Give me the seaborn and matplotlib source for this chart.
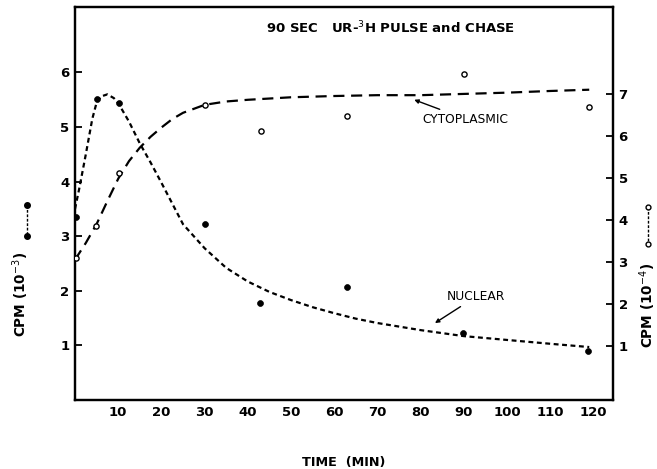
import numpy as np
import pandas as pd
import matplotlib
matplotlib.use("Agg")
import matplotlib.pyplot as plt
from matplotlib.lines import Line2D
import seaborn as sns

# ---- data ----
# Nuclear (filled circles, left axis, CPM x10^-3)
nuc_t = [0.3, 5.1, 10.2, 30.0, 42.8, 63.0, 89.8, 118.8]
nuc_y = [3.35, 5.51, 5.45, 3.22, 1.78, 2.07, 1.22, 0.90]
# Nuclear fitted curve
nuc_curve_t = [0, 1, 2.5, 4, 5, 6, 7.5, 9, 10, 12.5, 15, 17.5, 20, 22.5, 25, 30, 35, 40, 45,
               50, 55, 60, 65, 70, 80, 90, 100, 110, 119]
nuc_curve_y = [3.5, 3.88, 4.5, 5.15, 5.45, 5.56, 5.6, 5.53, 5.44, 5.1, 4.7, 4.35, 3.98, 3.6,
               3.22, 2.78, 2.42, 2.17, 1.98, 1.83, 1.7, 1.59, 1.49, 1.41, 1.28, 1.17, 1.1, 1.03, 0.97]

# Cytoplasmic (open circles, right axis, CPM x10^-4)
cyt_t = [0.3, 4.9, 10.2, 30.0, 43.0, 63.0, 90.0, 119.0]
cyt_y = [3.1, 3.86, 5.12, 6.74, 6.12, 6.48, 7.48, 6.70]
# Cytoplasmic fitted curve
cyt_curve_t = [0, 2.5, 5, 7.5, 10, 12.5, 15, 17.5, 20, 22.5, 25, 30, 35, 40, 50, 60, 70, 80,
               90, 100, 110, 119]
cyt_curve_y = [3.05, 3.45, 3.9, 4.45, 4.98, 5.4, 5.72, 5.98, 6.2, 6.4, 6.55, 6.74, 6.82, 6.86,
               6.92, 6.95, 6.97, 6.97, 7.0, 7.03, 7.07, 7.1]

x_ticks = [10, 20, 30, 40, 50, 60, 70, 80, 90, 100, 110, 120]
left_ticks = [1, 2, 3, 4, 5, 6]
right_ticks = [1, 2, 3, 4, 5, 6, 7]

title_text = "90 SEC   UR-$^{3}$H PULSE and CHASE"

sns.set_style("white")
plt.rcParams['font.family'] = ['DejaVu Sans']
plt.rcParams['text.color'] = 'black'
plt.rcParams['axes.labelcolor'] = 'black'
plt.rcParams['xtick.color'] = 'black'
plt.rcParams['ytick.color'] = 'black'

W, H = 657, 469
fig = plt.figure(figsize=(W / 100, H / 100), dpi=100)
L, R, T, B = 75, 613, 7, 400
ax = fig.add_axes([L / W, 1 - B / H, (R - L) / W, (B - T) / H])
ax2 = ax.twinx()

nuc_df = pd.DataFrame({"t": nuc_curve_t, "y": nuc_curve_y})
cyt_df = pd.DataFrame({"t": cyt_curve_t, "y": cyt_curve_y})

sns.lineplot(data=nuc_df, x="t", y="y", ax=ax, color="black", linewidth=1.6,
             linestyle=(0, (2.2, 1.6)))
sns.scatterplot(x=nuc_t, y=nuc_y, ax=ax, color="black", s=18, marker="o",
                edgecolor="black", linewidth=0.5, zorder=5)

sns.lineplot(data=cyt_df, x="t", y="y", ax=ax2, color="black", linewidth=1.6,
             linestyle=(0, (5, 3)))
sns.scatterplot(x=cyt_t, y=cyt_y, ax=ax2, facecolor="white", s=14, marker="o",
                edgecolor="black", linewidth=1.0, zorder=5)

ax.set_xlim(0, 124.5)
ax.set_ylim(0, 7.2)
ax2.set_ylim(-0.29, 9.07)

ax.set_xticks(x_ticks)
ax.set_xticklabels([str(v) for v in x_ticks])
ax.set_yticks(left_ticks)
ax.set_yticklabels([str(v) for v in left_ticks])
ax2.set_yticks(right_ticks)
ax2.set_yticklabels([str(v) for v in right_ticks])

for a in (ax, ax2):
    a.set_xlabel("")
    a.set_ylabel("")
    for s in a.spines.values():
        s.set_linewidth(1.6)
        s.set_color("black")

ax.tick_params(axis="both", direction="in", length=5, width=1.3, labelsize=9.5,
               pad=4, colors="black")
ax2.tick_params(axis="y", direction="in", length=5, width=1.3, labelsize=9.5,
                pad=4, colors="black")
for lab in ax.get_xticklabels() + ax.get_yticklabels() + ax2.get_yticklabels():
    lab.set_fontweight("bold")

# title
ax.text((391 - L) / (R - L), (B - 28) / (B - T), title_text, transform=ax.transAxes,
        ha="center", va="center", fontsize=9.5, fontweight="bold", color="black")

# annotations
ax2.annotate("CYTOPLASMIC", xy=(78.5, 6.86), xytext=(80.5, 6.4),
             fontsize=8.8, ha="left", va="center", color="black",
             arrowprops=dict(arrowstyle="-|>", color="black", lw=1.0,
                             mutation_scale=6, shrinkA=0, shrinkB=0))
ax.annotate("NUCLEAR", xy=(83.3, 1.41), xytext=(86.0, 1.89),
            fontsize=8.8, ha="left", va="center", color="black",
            arrowprops=dict(arrowstyle="-|>", color="black", lw=1.0,
                            mutation_scale=6, shrinkA=0, shrinkB=0))

# x label
fig.text(344 / W, 1 - 462 / H, "TIME  (MIN)", ha="center", va="center",
         fontsize=9.2, fontweight="bold", color="black")

# y labels with key symbols
fig.text(21 / W, 1 - 294 / H, "CPM (10$^{-3}$)", ha="center", va="center",
         rotation=90, fontsize=9.8, fontweight="bold", color="black")
fig.add_artist(Line2D([27 / W, 27 / W], [1 - 205 / H, 1 - 236 / H], transform=fig.transFigure,
                      color="black", lw=1.0, linestyle=(0, (2, 1.2)), marker="o",
                      markersize=4, markerfacecolor="black", markeredgecolor="black"))

fig.text(648 / W, 1 - 305 / H, "CPM (10$^{-4}$)", ha="center", va="center",
         rotation=90, fontsize=9.8, fontweight="bold", color="black")
fig.add_artist(Line2D([648 / W, 648 / W], [1 - 207 / H, 1 - 244 / H], transform=fig.transFigure,
                      color="black", lw=1.0, linestyle=(0, (2, 1.2)), marker="o",
                      markersize=3.5, markerfacecolor="white", markeredgecolor="black"))

fig.savefig("out.png", dpi=100)
